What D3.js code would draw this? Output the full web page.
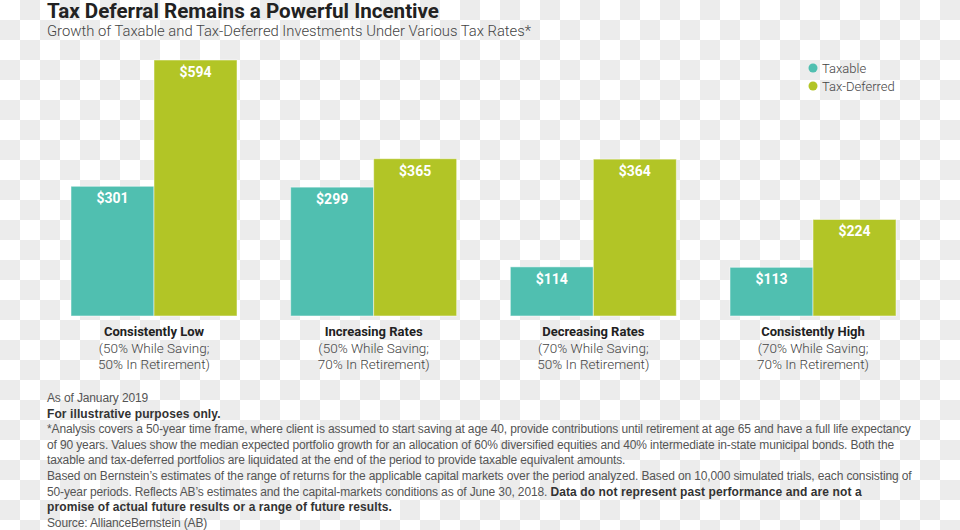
<!DOCTYPE html>
<html><head><meta charset="utf-8">
<script src="https://cdn.jsdelivr.net/npm/d3@7"></script>
<style>
html,body{margin:0;padding:0;background:#fff;}
svg{display:block;}
</style></head>
<body>
<svg id="chart" width="960" height="530"></svg>
<script>
const categories = ["Consistently Low","Increasing Rates","Decreasing Rates","Consistently High"];
const subLabels1 = ["(50% While Saving;","(50% While Saving;","(70% While Saving;","(70% While Saving;"];
const subLabels2 = ["50% In Retirement)","70% In Retirement)","50% In Retirement)","70% In Retirement)"];
const seriesNames = ["Taxable","Tax-Deferred"];
const taxable = [301,299,114,113];
const taxDeferred = [594,365,364,224];
const colors = ["#50bfb0","#b2c526"];

const svg = d3.select("#chart");
const W = 960, H = 530;

// checkerboard background (as in reference)
const defs = svg.append("defs");
const pat = defs.append("pattern").attr("id","cb").attr("width",40).attr("height",40).attr("patternUnits","userSpaceOnUse");
pat.append("rect").attr("width",40).attr("height",40).attr("fill","#ffffff");
pat.append("rect").attr("x",20).attr("y",0).attr("width",20).attr("height",20).attr("fill","#ececec");
pat.append("rect").attr("x",0).attr("y",20).attr("width",20).attr("height",20).attr("fill","#ececec");
svg.append("rect").attr("width",W).attr("height",H).attr("fill","url(#cb)");

// title
svg.append("text").attr("x",47).attr("y",18).attr("font-family","Roboto, sans-serif").attr("font-weight",700)
  .attr("font-size",20.6).attr("fill","#222").text("Tax Deferral Remains a Powerful Incentive");
svg.append("text").attr("x",47).attr("y",36).attr("font-family","Roboto, sans-serif").attr("font-weight",300)
  .attr("font-size",14.8).attr("fill","#444").text("Growth of Taxable and Tax-Deferred Investments Under Various Tax Rates*");

const baseY = 316;
const y = d3.scaleLinear().domain([0,594]).range([baseY,60]);
const x0 = d3.scaleBand().domain(categories).range([71,896]).paddingInner(0.2443).paddingOuter(0);
const x1 = d3.scaleBand().domain(seriesNames).range([0,x0.bandwidth()]).padding(0);

const data = categories.map((c,i)=>({cat:c, vals:[{s:seriesNames[0],v:taxable[i]},{s:seriesNames[1],v:taxDeferred[i]}]}));
const color = d3.scaleOrdinal().domain(seriesNames).range(colors);

const g = svg.append("g").selectAll("g").data(data).join("g").attr("transform",d=>`translate(${x0(d.cat)},0)`);
g.selectAll("rect").data(d=>d.vals).join("rect")
  .attr("x",d=>x1(d.s)).attr("y",d=>y(d.v)).attr("width",x1.bandwidth()).attr("height",d=>baseY-y(d.v))
  .attr("fill",d=>color(d.s)).attr("stroke","#ffffff").attr("stroke-opacity",0.5).attr("stroke-width",1);
g.selectAll("text.val").data(d=>d.vals).join("text").attr("class","val")
  .attr("x",d=>x1(d.s)+x1.bandwidth()/2).attr("y",d=>y(d.v)+17)
  .attr("text-anchor","middle").attr("font-family","Roboto, sans-serif").attr("font-weight",700)
  .attr("font-size",14).attr("fill","#fff").text(d=>"$"+d.v);

// category labels
const labs = svg.append("g").selectAll("g").data(categories).join("g")
  .attr("transform",d=>`translate(${x0(d)+x0.bandwidth()/2},0)`);
labs.append("text").attr("y",336).attr("text-anchor","middle").attr("font-family","Roboto, sans-serif")
  .attr("font-weight",700).attr("font-size",13).attr("fill","#222").text(d=>d);
labs.append("text").attr("y",353).attr("text-anchor","middle").attr("font-family","Roboto, sans-serif")
  .attr("font-weight",300).attr("font-size",13.5).attr("fill","#444").text((d,i)=>subLabels1[i]);
labs.append("text").attr("y",369).attr("text-anchor","middle").attr("font-family","Roboto, sans-serif")
  .attr("font-weight",300).attr("font-size",13.5).attr("fill","#444").text((d,i)=>subLabels2[i]);

// legend
const leg = svg.append("g").selectAll("g").data(seriesNames).join("g")
  .attr("transform",(d,i)=>`translate(813,${68+i*18})`);
leg.append("circle").attr("r",4.5).attr("fill",d=>color(d));
leg.append("text").attr("x",9).attr("y",4.5).attr("font-family","Roboto, sans-serif").attr("font-weight",300)
  .attr("font-size",13).attr("fill","#444").text(d=>d);

// footnotes
const notes = [
  [["As of January 2019",false]],
  [["For illustrative purposes only.",true]],
  [["*Analysis covers a 50-year time frame, where client is assumed to start saving at age 40, provide contributions until retirement at age 65 and have a full life expectancy",false]],
  [["of 90 years. Values show the median expected portfolio growth for an allocation of 60% diversified equities and 40% intermediate in-state municipal bonds. Both the",false]],
  [["taxable and tax-deferred portfolios are liquidated at the end of the period to provide taxable equivalent amounts.",false]],
  [["Based on Bernstein\u2019s estimates of the range of returns for the applicable capital markets over the period analyzed. Based on 10,000 simulated trials, each consisting of",false]],
  [["50-year periods. Reflects AB\u2019s estimates and the capital-markets conditions as of June 30, 2018. ",false],["Data do not represent past performance and are not a",true]],
  [["promise of actual future results or a range of future results.",true]],
  [["Source: AllianceBernstein (AB)",false]]
];
const ft = svg.append("g");
notes.forEach((line,i)=>{
  const t = ft.append("text").attr("x",47).attr("y",402+i*15.6).attr("font-family","Liberation Sans, Arial, sans-serif")
    .attr("font-size",12).attr("fill","#555");
  line.forEach(([s,b])=>{
    t.append("tspan").attr("font-weight",b?700:400).attr("letter-spacing",b?0.1:-0.13)
      .attr("fill",b?"#333":"#555").text(s);
  });
});
</script>
</body></html>
